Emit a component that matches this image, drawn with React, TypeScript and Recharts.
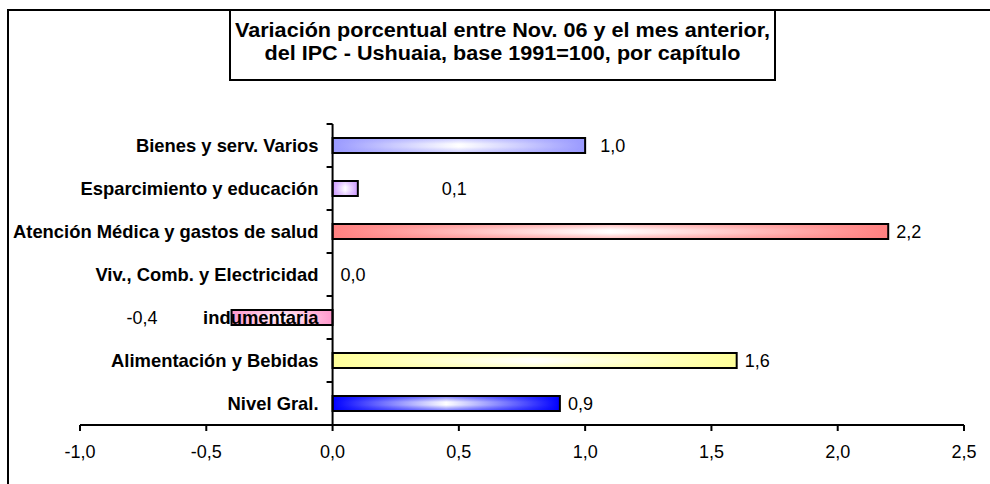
import { Bar, BarChart, LabelList, ReferenceLine, XAxis, YAxis } from "recharts";

const TITLE_LINES = [
  "Variación porcentual entre Nov. 06 y el mes anterior,",
  "del IPC - Ushuaia, base 1991=100, por capítulo",
];

const CATEGORIES = [
  "Bienes y serv. Varios",
  "Esparcimiento y educación",
  "Atención Médica y gastos de salud",
  "Viv., Comb. y Electricidad",
  "indumentaria",
  "Alimentación y Bebidas",
  "Nivel Gral.",
];

const VALUES = [1.0, 0.1, 2.2, 0.0, -0.4, 1.6, 0.9];

const X_TICKS = [-1, -0.5, 0, 0.5, 1, 1.5, 2, 2.5];

// estilos
const BAR_COLORS = ["#9999ff", "#cc99ff", "#ff8080", "#c0c0c0", "#ff99cc", "#ffff99", "#0000ff"];
// corrimiento horizontal de algunas etiquetas de valor (como en el original de Excel)
const LABEL_NUDGE: Record<string, number> = {
  "Bienes y serv. Varios": 7,
  "Esparcimiento y educación": 76,
  indumentaria: -66,
};

const FONT = '"Liberation Sans", Arial, sans-serif';
const W = 990;
const H = 484;
const X_DOMAIN: [number, number] = [X_TICKS[0], X_TICKS[X_TICKS.length - 1]];
const PLOT = { left: 80, right: 964, top: 124, bottom: 425 };
const Y_AXIS_W = 60;
const X_AXIS_H = 30;

const ZERO_X =
  PLOT.left +
  ((0 - X_DOMAIN[0]) / (X_DOMAIN[1] - X_DOMAIN[0])) * (PLOT.right - PLOT.left);
const BAND = (PLOT.bottom - PLOT.top) / CATEGORIES.length;

const fmt = (v: number) => v.toFixed(1).replace(".", ",");

const data = CATEGORIES.map((name, i) => ({ name, value: VALUES[i] }));

type TickProps = { x?: number; y?: number; index?: number; payload?: { value: string } };

function CategoryTick({ y = 0, index = 0, payload }: TickProps) {
  const top = y - BAND / 2;
  const isLast = index === CATEGORIES.length - 1;
  return (
    <g>
      <text
        x={ZERO_X - 14}
        y={y}
        textAnchor="end"
        dominantBaseline="central"
        fontFamily={FONT}
        fontSize={18.4}
        fontWeight={700}
        fill="#000"
      >
        {payload?.value}
      </text>
      <line x1={ZERO_X - 6} x2={ZERO_X} y1={top} y2={top} stroke="#000" strokeWidth={2} />
      {isLast && (
        <line x1={ZERO_X - 6} x2={ZERO_X} y1={top + BAND} y2={top + BAND} stroke="#000" strokeWidth={2} />
      )}
    </g>
  );
}

function GradientBar(props: any) {
  const { x = 0, y = 0, width = 0, height = 0, payload } = props;
  if (!width) return <g />;
  const i = CATEGORIES.indexOf(payload?.name);
  const left = Math.min(x, x + width);
  const w = Math.abs(width);
  return (
    <g>
      <rect x={left} y={y} width={w} height={height} fill={`url(#gh${i})`} />
      <rect x={left} y={y} width={w} height={height} fill={`url(#gv${i})`} />
      <rect x={left} y={y} width={w} height={height} fill="none" stroke="#000" strokeWidth={2} />
    </g>
  );
}

function ValueLabel(props: any) {
  const { x = 0, y = 0, width = 0, height = 0, value, index = 0 } = props;
  const v = Number(value);
  const end = Number(x) + Number(width);
  const nudge = LABEL_NUDGE[CATEGORIES[index]] ?? 0;
  const neg = v < 0;
  return (
    <text
      x={(neg ? end - 8 : end + 8) + nudge}
      y={Number(y) + Number(height) / 2}
      textAnchor={neg ? "end" : "start"}
      dominantBaseline="central"
      fontFamily={FONT}
      fontSize={18}
      fill="#000"
    >
      {fmt(v)}
    </text>
  );
}

export default function App() {
  return (
    <div style={{ position: "relative", width: W, height: H, overflow: "hidden", background: "#fff" }}>
      <style>{"body{margin:0}"}</style>
      <div
        style={{
          position: "absolute",
          left: 7,
          top: 9,
          width: W + 20,
          height: H + 20,
          borderTop: "2px solid #000",
          borderLeft: "2px solid #000",
        }}
      />
      <div style={{ position: "absolute", left: 0, top: 0 }}>
        <BarChart
          width={W}
          height={H}
          data={data}
          layout="vertical"
          margin={{
            top: PLOT.top,
            right: W - PLOT.right,
            bottom: H - PLOT.bottom - X_AXIS_H,
            left: PLOT.left - Y_AXIS_W,
          }}
          barSize={15}
        >
          <defs>
            {BAR_COLORS.map((c, i) => (
              <linearGradient key={`h${i}`} id={`gh${i}`} x1="0" y1="0" x2="1" y2="0">
                <stop offset="0%" stopColor={c} />
                <stop offset="50%" stopColor="#ffffff" />
                <stop offset="100%" stopColor={c} />
              </linearGradient>
            ))}
            {BAR_COLORS.map((c, i) => (
              <linearGradient key={`v${i}`} id={`gv${i}`} x1="0" y1="0" x2="0" y2="1">
                <stop offset="0%" stopColor={c} stopOpacity={0.55} />
                <stop offset="40%" stopColor={c} stopOpacity={0} />
                <stop offset="60%" stopColor={c} stopOpacity={0} />
                <stop offset="100%" stopColor={c} stopOpacity={0.55} />
              </linearGradient>
            ))}
          </defs>
          <XAxis
            type="number"
            domain={X_DOMAIN}
            ticks={X_TICKS}
            interval={0}
            allowDataOverflow
            height={X_AXIS_H}
            axisLine={{ stroke: "#000", strokeWidth: 2 }}
            tickLine={{ stroke: "#000", strokeWidth: 2 }}
            tickSize={6}
            tickMargin={14}
            tick={{ fontSize: 18, fill: "#000", fontFamily: FONT }}
            tickFormatter={(v) => fmt(Number(v))}
          />
          <YAxis
            type="category"
            dataKey="name"
            width={Y_AXIS_W}
            interval={0}
            axisLine={false}
            tickLine={false}
            tick={(p: object) => <CategoryTick {...(p as TickProps)} />}
          />
          <Bar dataKey="value" shape={GradientBar} isAnimationActive={false}>
            <LabelList dataKey="value" content={ValueLabel} />
          </Bar>
          <ReferenceLine x={0} stroke="#000" strokeWidth={2} />
        </BarChart>
      </div>
      <div
        style={{
          position: "absolute",
          left: 229,
          top: 9,
          width: 547,
          height: 72,
          boxSizing: "border-box",
          border: "2px solid #000",
          background: "#fff",
          textAlign: "center",
          fontFamily: FONT,
          fontWeight: 700,
          fontSize: 20,
          lineHeight: "23px",
          paddingTop: 8,
          color: "#000",
        }}
      >
        {TITLE_LINES.map((t) => (
          <div key={t} style={{ transform: "scaleX(1.08)" }}>
            {t}
          </div>
        ))}
      </div>
    </div>
  );
}
